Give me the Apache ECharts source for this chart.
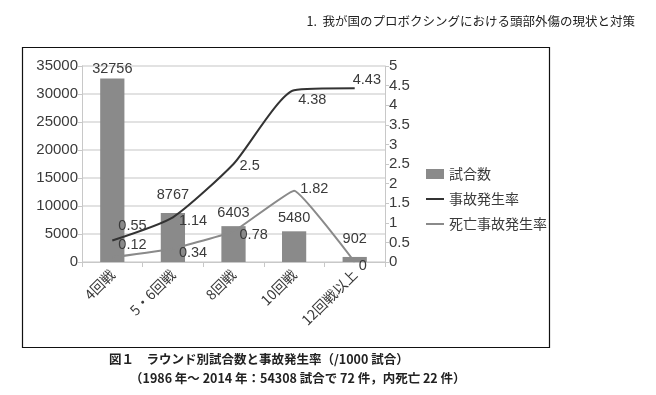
<!DOCTYPE html>
<html>
<head>
<meta charset="utf-8">
<script src="https://cdn.jsdelivr.net/npm/echarts@6/dist/echarts.min.js"></script>
<style>html,body{margin:0;padding:0;background:#fff}#c{width:656px;height:395px}</style>
</head>
<body>
<div id="c"></div>
<script>
var categories = ['4回戦', '5・6回戦', '8回戦', '10回戦', '12回戦以上'];
var matchCounts = [32756, 8767, 6403, 5480, 902];
var accidentRate = [0.55, 1.14, 2.5, 4.38, 4.43];
var deathRate = [0.12, 0.34, 0.78, 1.82, 0];
var leftTicks = [0, 5000, 10000, 15000, 20000, 25000, 30000, 35000];
var rightTicks = [0, 0.5, 1, 1.5, 2, 2.5, 3, 3.5, 4, 4.5, 5];

var NUM = '"Liberation Sans", Arial, sans-serif';
var CJK = '"Noto Sans CJK JP", sans-serif';
var TXT = '#3a3a3a';

// label offsets per point (styling only)
var barOff = [[0, 2], [0, -6], [0, -2], [0, -2], [0, -6]];
var accOff = [[0, -14], [0, 4], [0, 2], [-2, 10], [-8, -8]];
var deathOff = [[0, -12], [0, 4], [0, 4], [0, -2], [-2, 4]];

function withOff(vals, offs) {
  return vals.map(function (v, i) { return { value: v, label: { offset: offs[i] } }; });
}

var lineIcon = 'path://M0,4L18,4L18,6L0,6Z';

var chart = echarts.init(document.getElementById('c'), null, { renderer: 'canvas' });
chart.setOption({
  animation: false,
  title: [
    { text: '1.  我が国のプロボクシングにおける頭部外傷の現状と対策', right: 16, top: 10,
      textStyle: { fontFamily: CJK, fontSize: 12.5, fontWeight: 'normal', color: '#222' } },
    { text: '図１　ラウンド別試合数と事故発生率（/1000 試合）', left: 104, top: 348,
      textStyle: { fontFamily: CJK, fontSize: 12.5, fontWeight: 'bold', color: '#222' } },
    { text: '（1986 年～ 2014 年：54308 試合で 72 件，内死亡 22 件）', left: 125, top: 367,
      textStyle: { fontFamily: CJK, fontSize: 12.5, fontWeight: 'bold', color: '#222' } }
  ],
  graphic: [
    { type: 'rect', shape: { x: 22.5, y: 47.5, width: 527, height: 300 },
      style: { fill: 'none', stroke: '#111', lineWidth: 1.2 }, z: -1 }
  ],
  legend: {
    orient: 'vertical', left: 421, top: 162, itemGap: 11,
    itemWidth: 18, itemHeight: 10,
    textStyle: { fontFamily: CJK, fontSize: 14, color: TXT },
    data: [
      { name: '試合数', icon: 'rect' },
      { name: '事故発生率', icon: lineIcon },
      { name: '死亡事故発生率', icon: lineIcon }
    ]
  },
  grid: { left: 82, right: 271, top: 66, bottom: 133 },
  xAxis: {
    type: 'category', data: categories, boundaryGap: true,
    axisLine: { lineStyle: { color: '#c8c8c8' } },
    axisTick: { show: true, interval: 0, length: 5, lineStyle: { color: '#c8c8c8' } },
    axisLabel: { interval: 0, rotate: 45, margin: 10, fontFamily: CJK, fontSize: 14, color: TXT }
  },
  yAxis: [
    { type: 'value', min: leftTicks[0], max: leftTicks[leftTicks.length - 1], interval: leftTicks[1] - leftTicks[0],
      axisLine: { show: true, lineStyle: { color: '#c8c8c8' } },
      axisTick: { show: true, length: 4, lineStyle: { color: '#c8c8c8' } },
      axisLabel: { margin: 4, fontFamily: NUM, fontSize: 15, color: TXT, formatter: function (v) { return String(v); } },
      splitLine: { lineStyle: { color: '#d9d9d9', width: 1.5 } } },
    { type: 'value', min: rightTicks[0], max: rightTicks[rightTicks.length - 1], interval: rightTicks[1] - rightTicks[0],
      axisLine: { show: true, lineStyle: { color: '#c8c8c8' } },
      axisTick: { show: true, length: 4, lineStyle: { color: '#c8c8c8' } },
      axisLabel: { margin: 4, fontFamily: NUM, fontSize: 15, color: TXT, formatter: function (v) { return String(v); } },
      splitLine: { show: false } }
  ],
  series: [
    { name: '試合数', type: 'bar', yAxisIndex: 0, barWidth: '40%',
      itemStyle: { color: '#8a8a8a' },
      label: { show: true, position: 'top', distance: 4, fontFamily: NUM, fontSize: 14.5, color: TXT },
      data: withOff(matchCounts, barOff) },
    { name: '事故発生率', type: 'line', yAxisIndex: 1, smooth: 0.2, showSymbol: true, symbol: 'circle', symbolSize: 0.1,
      lineStyle: { color: '#333', width: 2 }, itemStyle: { color: '#333' },
      label: { show: true, position: 'right', distance: 6, fontFamily: NUM, fontSize: 14.5, color: TXT },
      data: withOff(accidentRate, accOff) },
    { name: '死亡事故発生率', type: 'line', yAxisIndex: 1, smooth: 0.1, showSymbol: true, symbol: 'circle', symbolSize: 0.1,
      lineStyle: { color: '#8a8a8a', width: 2 }, itemStyle: { color: '#8a8a8a' },
      label: { show: true, position: 'right', distance: 6, fontFamily: NUM, fontSize: 14.5, color: TXT },
      data: withOff(deathRate, deathOff) }
  ]
});
</script>
</body>
</html>
